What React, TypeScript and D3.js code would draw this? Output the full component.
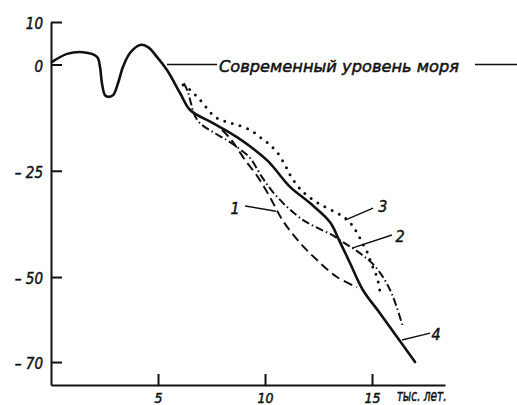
import React, { useEffect, useRef } from "react";
import * as d3 from "d3";

// sea level curves, x = thousand years ago, y = metres
const curve4: [number, number][] = [
  [0.05, 0.6], [0.75, 2.5], [1.5, 2.9], [2.15, 1.8], [2.29, -0.6], [2.38, -4.4],
  [2.52, -7.2], [2.66, -7.6], [2.9, -7.2], [3.13, -4.4], [3.36, -0.6], [3.69, 2.7],
  [4.16, 4.6], [4.53, 4.1], [4.95, 1.8], [5.42, -1.3], [6.03, -6.7], [6.5, -10.7],
  [7.57, -13.8], [8.69, -17.1], [10.09, -22.5], [11.17, -28.8], [12.1, -32.6],
  [13.04, -37.1], [13.46, -41.3], [13.97, -46.7], [14.58, -53.1], [15.37, -58.5],
  [16.17, -64.1], [17.01, -70]
];
const curve3: [number, number][] = [
  [6.17, -4.8], [6.5, -6.0], [6.82, -7.6], [7.1, -9.1], [7.43, -11.2], [7.76, -12.6],
  [8.22, -13.5], [8.69, -14.2], [9.3, -15.4], [9.77, -17.1], [10.14, -18.5],
  [10.56, -20.6], [10.93, -23.6], [11.26, -26.7], [11.78, -30], [12.48, -32.6],
  [13.27, -34.7], [13.74, -36.1], [14.07, -37.8], [14.3, -39.6], [14.53, -41.8],
  [14.77, -44.1], [15, -47.2], [15.23, -50], [15.37, -53.3]
];
const curve2: [number, number][] = [
  [6.21, -4.4], [6.4, -6.5], [6.54, -9.1], [6.68, -11.6], [6.96, -13.8], [7.57, -15.9],
  [8.22, -17.8], [8.69, -19.4], [9.3, -22], [9.86, -26.5], [10.37, -30], [11.03, -33.5],
  [11.78, -36.6], [12.43, -38.4], [13.13, -40.1], [13.64, -41.8], [14.21, -43.6],
  [14.67, -45.3], [15.09, -47.2], [15.42, -49.3], [15.7, -51.6], [15.93, -54],
  [16.17, -57.3], [16.45, -61.8]
];
const curve1: [number, number][] = [
  [7.99, -15.4], [8.36, -17.3], [8.69, -19.6], [9.07, -22.5], [9.63, -26.2],
  [10.23, -31.2], [10.84, -36.8], [11.64, -42], [12.43, -46], [13.36, -50], [14.3, -52.4]
];

const xTicks = [5, 10, 15];
const yTicks = [10, 0, -25, -50, -70];
const xUnit = "тыс. лет.";
const seaLevelText = "Современный уровень моря";

// curve numbers: text position and leader line
const labels = [
  { name: "1", at: [8.6, -35.2], from: [9.07, -33.3], to: [10.51, -34.5] },
  { name: "2", at: [16.31, -41.8], from: [14.07, -43.2], to: [15.93, -40.1] },
  { name: "3", at: [15.51, -34.7], from: [13.74, -36.6], to: [15.05, -33.8] },
  { name: "4", at: [17.99, -64.8], from: [16.4, -64.8], to: [17.71, -63.2] }
];

const font = "'Liberation Sans Narrow', 'DejaVu Sans Condensed', 'Liberation Sans', sans-serif";

// italic lettering, a little heavier than the regular face
function letter(sel: any, size: number) {
  sel.attr("font-family", font)
    .attr("font-style", "italic")
    .attr("font-size", size)
    .attr("fill", "#111")
    .attr("stroke", "#111")
    .attr("stroke-width", 0.45);
}

export default function App() {
  const svgRef = useRef<SVGSVGElement>(null);

  useEffect(() => {
    const svg = d3.select(svgRef.current);
    svg.selectAll("*").remove();

    const x = d3.scaleLinear().domain([0, 18.41]).range([51, 445]);
    const y = d3.scaleLinear().domain([10, -75.4]).range([22, 385]);

    // axes
    const yAxis = d3.axisLeft(y)
      .tickValues(yTicks)
      .tickSize(-11)
      .tickSizeOuter(0)
      .tickPadding(8)
      .tickFormat(d => (+d < 0 ? "– " + -d : String(d)));
    svg.append("g")
      .attr("transform", `translate(${x(0)},0)`)
      .call(yAxis)
      .call(g => g.selectAll("path, line").attr("stroke", "#111").attr("stroke-width", 2))
      .call(g => g.selectAll("text").call(letter, 15).attr("dy", "0.45em"));

    const xAxis = d3.axisBottom(x)
      .tickValues(xTicks)
      .tickSize(-11)
      .tickSizeOuter(0)
      .tickPadding(8);
    svg.append("g")
      .attr("transform", `translate(0,${y(-75.4)})`)
      .call(xAxis)
      .call(g => g.selectAll("path, line").attr("stroke", "#111").attr("stroke-width", 2))
      .call(g => g.selectAll("text").call(letter, 14));

    svg.append("text")
      .attr("x", x(16.15)).attr("y", y(-75.4) + 16)
      .attr("textLength", 50).attr("lengthAdjust", "spacingAndGlyphs")
      .call(letter, 15)
      .text(xUnit);

    // present-day sea level
    svg.append("line")
      .attr("x1", x(5.42)).attr("x2", x(7.76)).attr("y1", y(0)).attr("y2", y(0))
      .attr("stroke", "#111").attr("stroke-width", 1.6);
    svg.append("line")
      .attr("x1", x(19.81)).attr("x2", x(21.8)).attr("y1", y(0)).attr("y2", y(0))
      .attr("stroke", "#111").attr("stroke-width", 1.6);
    svg.append("text")
      .attr("x", x(7.85)).attr("y", y(0) + 7)
      .attr("textLength", 240).attr("lengthAdjust", "spacingAndGlyphs")
      .call(letter, 16)
      .text(seaLevelText);

    const line = d3.line<[number, number]>()
      .x(d => x(d[0]))
      .y(d => y(d[1]))
      .curve(d3.curveCatmullRom.alpha(0.5));

    const series = [
      { data: curve1, width: 2, dash: "9 5", cap: "butt" },
      { data: curve2, width: 2, dash: "8 3 1.5 3", cap: "butt" },
      { data: curve3, width: 3, dash: "0 8", cap: "round" },
      { data: curve4, width: 2.6, dash: null, cap: "round" }
    ];
    svg.selectAll("path.curve")
      .data(series)
      .join("path")
      .attr("class", "curve")
      .attr("d", s => line(s.data))
      .attr("fill", "none")
      .attr("stroke", "#111")
      .attr("stroke-width", s => s.width)
      .attr("stroke-linecap", s => s.cap)
      .attr("stroke-dasharray", s => s.dash);

    // curve numbers
    svg.selectAll("line.leader")
      .data(labels)
      .join("line")
      .attr("class", "leader")
      .attr("x1", d => x(d.from[0])).attr("y1", d => y(d.from[1]))
      .attr("x2", d => x(d.to[0])).attr("y2", d => y(d.to[1]))
      .attr("stroke", "#111").attr("stroke-width", 1.5);
    svg.selectAll("text.num")
      .data(labels)
      .join("text")
      .attr("class", "num")
      .attr("x", d => x(d.at[0])).attr("y", d => y(d.at[1]))
      .attr("text-anchor", "middle")
      .call(letter, 16)
      .text(d => d.name);
  }, []);

  return (
    <svg
      ref={svgRef}
      width={517}
      height={405}
      style={{ position: "absolute", left: 0, top: 0, background: "#fff" }}
    />
  );
}
